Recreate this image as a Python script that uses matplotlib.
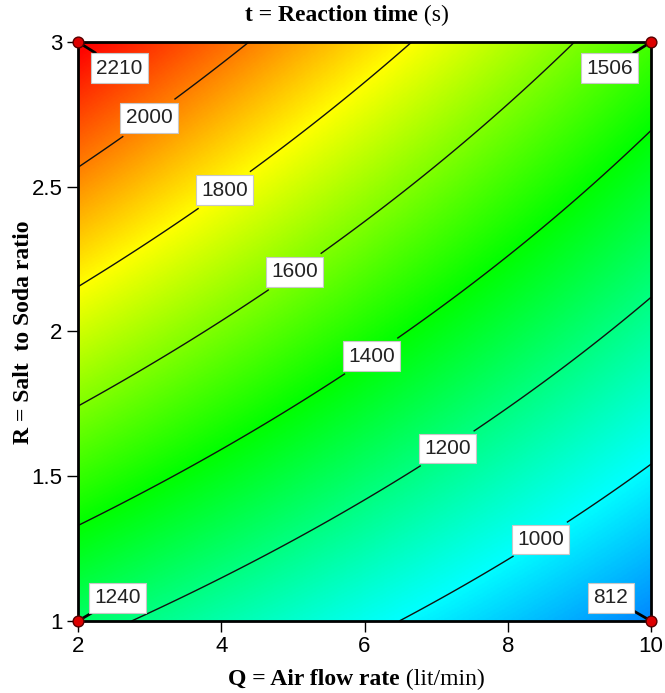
import numpy as np
import matplotlib.pyplot as plt
from matplotlib.colors import LinearSegmentedColormap

# design points (corners of the factor space) and reaction time t (s)
corner_q = [2, 10, 2, 10]
corner_r = [1, 1, 3, 3]
corner_t = [1240, 812, 2210, 1506]

# contour levels and where their labels sit (Q, R)
levels = [1000, 1200, 1400, 1600, 1800, 2000]
label_pos = [(8.46, 1.28), (7.17, 1.59), (6.08, 1.92), (4.96, 2.23), (4.01, 2.50), (2.94, 2.755)]
# corner label box positions (Q, R)
corner_label_pos = [(2.55, 1.08), (9.44, 1.08), (2.58, 2.91), (9.42, 2.91)]

x_ticks = [2, 4, 6, 8, 10]
y_ticks = [1, 1.5, 2, 2.5, 3]
y_tick_labels = ['1', '1.5', '2', '2.5', '3']

# bilinear model through the four design points
q = np.linspace(2, 10, 401)
r = np.linspace(1, 3, 401)
Q, R = np.meshgrid(q, r)
u = (Q - 2) / 8
v = (R - 1) / 2
t00, t10, t01, t11 = corner_t
T = (1 - u) * (1 - v) * t00 + u * (1 - v) * t10 + (1 - u) * v * t01 + u * v * t11

cmap = LinearSegmentedColormap.from_list(
    'de', ['#0000ff', '#00ffff', '#00ff00', '#ffff00', '#ff0000'])

fig = plt.figure(figsize=(6.65, 6.93), dpi=100)
ax = fig.add_axes([0.1173, 0.1039, 0.8617, 0.8355])

ax.imshow(T, origin='lower', extent=[2, 10, 1, 3], aspect='auto',
          cmap=cmap, vmin=600, vmax=2200, interpolation='bilinear')
cs = ax.contour(Q, R, T, levels=levels, colors='#111111', linewidths=1.0)
labels = ax.clabel(cs, levels, manual=label_pos, inline=True, fmt='%d', fontsize=15)
box = dict(boxstyle='square,pad=0.25', fc='white', ec='#c8c8c8', lw=0.8)
for t in labels:
    t.set_rotation(0)
    t.set_family('Liberation Sans')
    t.set_color('#222222')
    t.set_bbox(box)

# design points with value labels
for cq, cr, ct, (lq, lr) in zip(corner_q, corner_r, corner_t, corner_label_pos):
    ax.annotate(str(ct), xy=(cq, cr), xytext=(lq, lr), ha='center', va='center',
                fontsize=15, family='Liberation Sans', color='#222222', bbox=box,
                arrowprops=dict(arrowstyle='-', color='black', lw=2, shrinkA=0, shrinkB=0),
                annotation_clip=False, zorder=5)
ax.scatter(corner_q, corner_r, s=60, color='#dd0000', edgecolor='#550000',
           linewidth=1, zorder=6, clip_on=False)

ax.set_xlim(2, 10)
ax.set_ylim(1, 3)
ax.set_xticks(x_ticks)
ax.set_xticklabels([str(x) for x in x_ticks])
ax.set_yticks(y_ticks)
ax.set_yticklabels(y_tick_labels)
ax.tick_params(direction='out', length=8, width=1, labelsize=16, pad=3)
for lab in ax.get_xticklabels() + ax.get_yticklabels():
    lab.set_family('Liberation Sans')
for s in ax.spines.values():
    s.set_linewidth(2)

# title and x label: bold name, regular unit
fig.text(0.629, 0.978, 't = Reaction time', ha='right', va='center',
         fontsize=17, family='Liberation Serif', fontweight='bold')
fig.text(0.629, 0.978, ' (s)', ha='left', va='center',
         fontsize=17, family='Liberation Serif')
fig.text(0.601, 0.019, 'Q = Air flow rate', ha='right', va='center',
         fontsize=17, family='Liberation Serif', fontweight='bold')
fig.text(0.601, 0.019, ' (lit/min)', ha='left', va='center',
         fontsize=17, family='Liberation Serif')
fig.text(0.035, 0.52, 'R = Salt  to Soda ratio', ha='center', va='center',
         rotation=90, fontsize=17, family='Liberation Serif', fontweight='bold')

fig.savefig('out.png', dpi=100)
